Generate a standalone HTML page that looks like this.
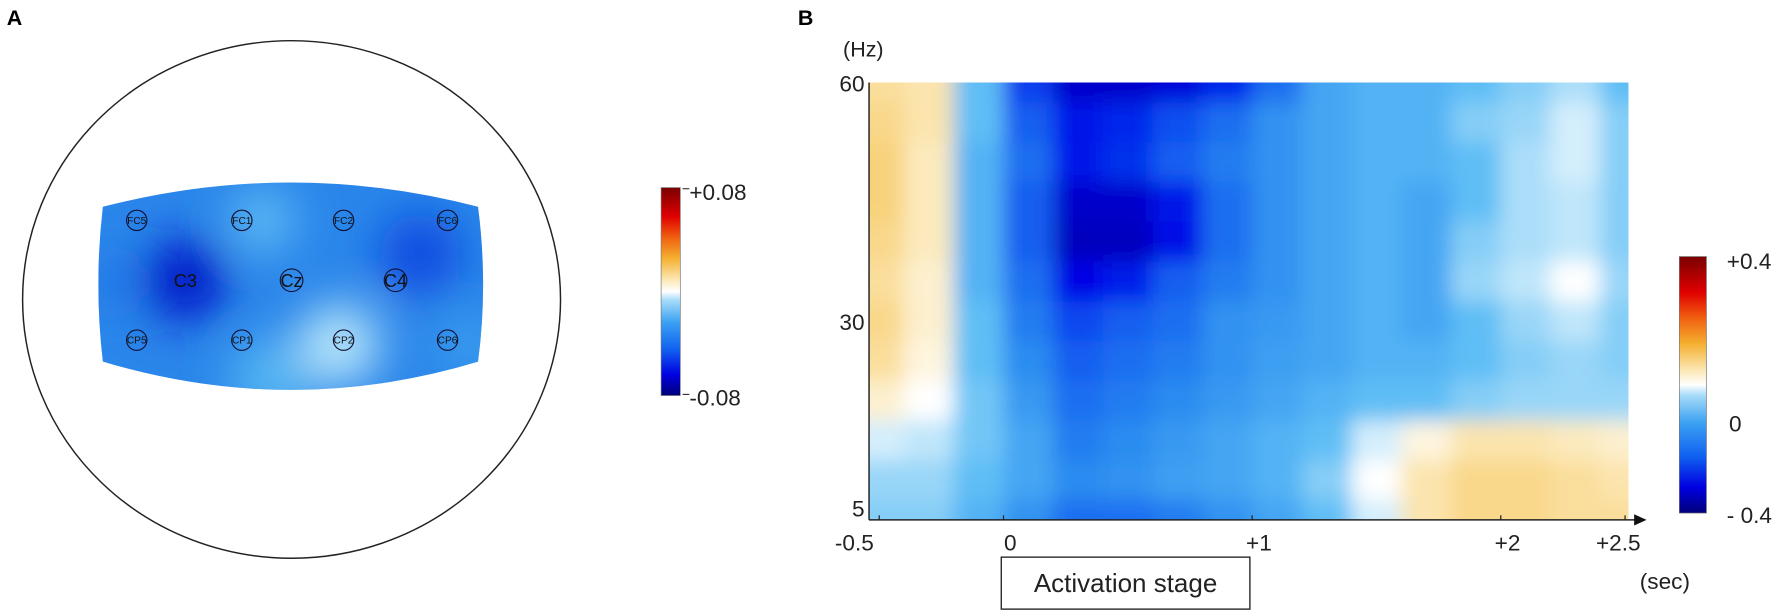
<!DOCTYPE html>
<html><head><meta charset="utf-8">
<style>
html,body{margin:0;padding:0;background:#fff;}
svg{display:block;font-family:"Liberation Sans",sans-serif;}
</style></head>
<body>
<svg id="fig" width="1772" height="614" viewBox="0 0 1772 614">
<defs>
  <filter id="blurH" x="-10%" y="-10%" width="120%" height="120%"><feGaussianBlur stdDeviation="9"/></filter>
  <filter id="blurT" x="-50%" y="-50%" width="200%" height="200%"><feGaussianBlur stdDeviation="20"/></filter>
  <clipPath id="clipH"><rect x="769" y="73" width="672" height="387"/></clipPath>
  <clipPath id="clipT"><path d="M91,183 Q258,140 423,183 Q432,252 423,320 Q258,370 91,320 Q83,252 91,183 Z"/></clipPath>
  <linearGradient id="cbA" x1="0" y1="1" x2="0" y2="0">
    <stop offset="0" stop-color="#00007a"/><stop offset="0.1" stop-color="#0000e0"/>
    <stop offset="0.22" stop-color="#1060f0"/><stop offset="0.35" stop-color="#3aa0f2"/>
    <stop offset="0.46" stop-color="#a8dcf8"/><stop offset="0.5" stop-color="#ffffff"/>
    <stop offset="0.56" stop-color="#fbe6b0"/><stop offset="0.66" stop-color="#f5b030"/>
    <stop offset="0.76" stop-color="#f06010"/><stop offset="0.86" stop-color="#e00000"/>
    <stop offset="1" stop-color="#7a0000"/>
  </linearGradient>
</defs>
<g transform="scale(1.1301)">
<!-- Panel A -->
<text x="6" y="22" font-size="19" font-weight="bold">A</text>
<ellipse cx="258" cy="265" rx="238" ry="229" fill="none" stroke="#222" stroke-width="1.3"/>
<g clip-path="url(#clipT)">
  <rect x="70" y="130" width="380" height="250" fill="#2a86ea"/>
  <g filter="url(#blurT)">
    <circle cx="232" cy="195" r="28" fill="#62bef4"/>
    <circle cx="300" cy="305" r="36" fill="#b8e6fa"/>
    <circle cx="240" cy="335" r="36" fill="#55b6f2"/>
    <circle cx="164" cy="248" r="36" fill="#0418c8"/>
    <circle cx="372" cy="225" r="36" fill="#0c4ae0"/>
    <circle cx="415" cy="305" r="28" fill="#3a9cee"/>
    <circle cx="100" cy="250" r="18" fill="#2070e6"/>
  </g>
</g>
<g font-size="9" fill="#111" text-anchor="middle">
  <g><circle cx="121" cy="195" r="9" fill="none" stroke="#113" stroke-width="1"/><text x="121" y="198">FC5</text></g>
  <g><circle cx="214" cy="195" r="9" fill="none" stroke="#113" stroke-width="1"/><text x="214" y="198">FC1</text></g>
  <g><circle cx="304" cy="195" r="9" fill="none" stroke="#113" stroke-width="1"/><text x="304" y="198">FC2</text></g>
  <g><circle cx="396" cy="195" r="9" fill="none" stroke="#113" stroke-width="1"/><text x="396" y="198">FC6</text></g>
  <g><text x="164" y="254" font-size="16">C3</text></g>
  <g><circle cx="258" cy="248" r="10" fill="none" stroke="#113" stroke-width="1"/><text x="258" y="254" font-size="16">Cz</text></g>
  <g><circle cx="350" cy="248" r="10" fill="none" stroke="#113" stroke-width="1"/><text x="350" y="254" font-size="16">C4</text></g>
  <g><circle cx="121" cy="301" r="9" fill="none" stroke="#113" stroke-width="1"/><text x="121" y="304">CP5</text></g>
  <g><circle cx="214" cy="301" r="9" fill="none" stroke="#113" stroke-width="1"/><text x="214" y="304">CP1</text></g>
  <g><circle cx="304" cy="301" r="9" fill="none" stroke="#113" stroke-width="1"/><text x="304" y="304">CP2</text></g>
  <g><circle cx="396" cy="301" r="9" fill="none" stroke="#113" stroke-width="1"/><text x="396" y="304">CP6</text></g>
</g>
<g>
  <rect x="585" y="166" width="17" height="184" fill="url(#cbA)" stroke="#777" stroke-width="0.6"/>
  <line x1="604" y1="167" x2="610" y2="167" stroke="#333"/>
  <line x1="604" y1="349" x2="610" y2="349" stroke="#333"/>
  <text x="610" y="177" font-size="20" fill="#222">+0.08</text>
  <text x="610" y="359" font-size="20" fill="#222">-0.08</text>
</g>

<!-- Panel B -->
<text x="706" y="22" font-size="19" font-weight="bold">B</text>
<text x="746" y="50" font-size="19" fill="#222">(Hz)</text>
<g clip-path="url(#clipH)"><g id="heat" filter="url(#blurH)"></g></g>
<g id="axes"></g>
<g>
  <rect x="1486" y="227" width="24" height="227" fill="url(#cbA)" stroke="#777" stroke-width="0.6"/>
  <text x="1528" y="238" font-size="20" fill="#222">+0.4</text>
  <text x="1530" y="382" font-size="20" fill="#222">0</text>
  <text x="1528" y="463" font-size="20" fill="#222">- 0.4</text>
</g>
<rect x="886" y="493" width="220" height="46" fill="none" stroke="#222" stroke-width="1.2"/>
<text x="996" y="524" font-size="23" fill="#222" text-anchor="middle">Activation stage</text>
<text x="1451" y="521" font-size="20" fill="#222">(sec)</text>
</g>
</svg>
<script>
const times = [-0.5,-0.3,-0.1,0.1,0.3,0.5,0.7,0.9,1.1,1.3,1.5,1.7,1.9,2.1,2.3,2.5];
const freqs = [60,55,50,45,40,35,30,25,20,15,10,5];
const power = [
 [.06,.05,-.08,-.26,-.34,-.34,-.33,-.28,-.2,-.12,-.1,-.1,-.08,-.06,-.04,-.08],
 [.07,.05,-.08,-.22,-.3,-.28,-.24,-.2,-.15,-.12,-.1,-.1,-.06,-.05,-.02,-.06],
 [.08,.04,-.1,-.2,-.3,-.27,-.22,-.18,-.15,-.12,-.1,-.1,-.08,-.04,-.02,-.06],
 [.08,.04,-.1,-.22,-.34,-.34,-.3,-.2,-.15,-.12,-.1,-.12,-.08,-.04,-.03,-.06],
 [.07,.04,-.1,-.22,-.35,-.35,-.31,-.2,-.15,-.12,-.1,-.12,-.06,-.04,-.03,-.06],
 [.06,.03,-.1,-.2,-.32,-.29,-.22,-.18,-.15,-.12,-.1,-.12,-.05,-.03,0,-.05],
 [.07,.03,-.08,-.18,-.25,-.22,-.2,-.15,-.14,-.12,-.1,-.12,-.08,-.05,-.03,-.06],
 [.06,.02,-.08,-.16,-.22,-.2,-.18,-.15,-.13,-.12,-.1,-.1,-.08,-.06,-.05,-.06],
 [.03,0,-.07,-.14,-.2,-.18,-.16,-.14,-.12,-.1,-.08,-.08,-.06,-.05,-.05,-.05],
 [-.02,-.03,-.07,-.12,-.18,-.16,-.14,-.12,-.1,-.08,-.02,.02,.05,.05,.04,.03],
 [-.05,-.05,-.08,-.12,-.16,-.15,-.13,-.12,-.1,-.06,0,.05,.07,.07,.06,.05],
 [-.06,-.06,-.1,-.15,-.2,-.2,-.18,-.15,-.12,-.08,-.02,.05,.07,.07,.06,.06]
];
const xTickVals = [-0.5,0,1,2,2.5];
const xTickLabels = ["-0.5","0","+1","+2","+2.5"];
const yTickVals = [60,30,5];
const yTickLabels = ["60","30","5"];

const NS="http://www.w3.org/2000/svg";
const X0=769,X1=1441,Y0=73,Y1=460;
function xs(t){return 888+220*t;}
function ys(f){return Y1-(f-5)/55*(Y1-Y0);}
const stops=[[-.4,[0,0,122]],[-.32,[0,0,230]],[-.24,[10,80,240]],[-.16,[42,140,240]],[-.08,[95,190,245]],[-.03,[191,230,250]],[0,[255,255,255]],[.03,[253,240,207]],[.08,[248,210,122]],[.16,[245,160,32]],[.24,[240,64,16]],[.32,[224,0,0]],[.4,[128,0,0]]];
function cmap(v){
  v=Math.max(-.4,Math.min(.4,v));
  for(let i=0;i<stops.length-1;i++){
    const a=stops[i],b=stops[i+1];
    if(v<=b[0]){const r=(v-a[0])/(b[0]-a[0]);
      return 'rgb('+a[1].map((c,k)=>Math.round(c+(b[1][k]-c)*r)).join(',')+')';}
  }
  return 'rgb(128,0,0)';
}
const heat=document.getElementById('heat');
const dt=times[1]-times[0], df=freqs[0]-freqs[1];
for(let r=0;r<freqs.length;r++){
  for(let c=0;c<times.length;c++){
    let xa=xs(times[c]-dt/2), xb=xs(times[c]+dt/2);
    let ya=ys(freqs[r]+df/2), yb=ys(freqs[r]-df/2);
    if(c===0) xa-=40; if(c===times.length-1) xb+=40;
    if(r===0) ya-=40; if(r===freqs.length-1) yb+=40;
    const el=document.createElementNS(NS,'rect');
    el.setAttribute('x',xa);el.setAttribute('y',ya);
    el.setAttribute('width',xb-xa+0.5);el.setAttribute('height',yb-ya+0.5);
    el.setAttribute('fill',cmap(power[r][c]));
    
    
    heat.appendChild(el);
  }
}
const axes=document.getElementById('axes');
function mk(tag,attrs,parent){const e=document.createElementNS(NS,tag);for(const k in attrs)e.setAttribute(k,attrs[k]);parent.appendChild(e);return e;}
const yl=mk('line',{x1:X0,y1:Y0,x2:X0,y2:Y1,stroke:'#222','stroke-width':1.3},axes);


const xl=mk('line',{x1:X0,y1:Y1,x2:1448,y2:Y1,stroke:'#222','stroke-width':1.3},axes);


const ar=mk('path',{d:'M1446,455 L1457,460 L1446,465 Z',fill:'#111'},axes);


xTickVals.forEach((v,i)=>{
  const x=xs(v);
  const tk=mk('line',{x1:x,y1:Y1-4,x2:x,y2:Y1,stroke:'#222','stroke-width':1.1},axes);
  
  
  const t=mk('text',{x:x+(i===0?-22:(i===4?-6:6)),y:487,'font-size':20,fill:'#222','text-anchor':'middle'},axes);
  t.textContent=xTickLabels[i];
  
  
});
yTickVals.forEach((v,i)=>{
  const y=ys(v);
  const t=mk('text',{x:X0-4,y:y+(i===2?-3:8),'font-size':20,fill:'#222','text-anchor':'end'},axes);
  t.textContent=yTickLabels[i];
  
  
});
</script>
</body></html>
